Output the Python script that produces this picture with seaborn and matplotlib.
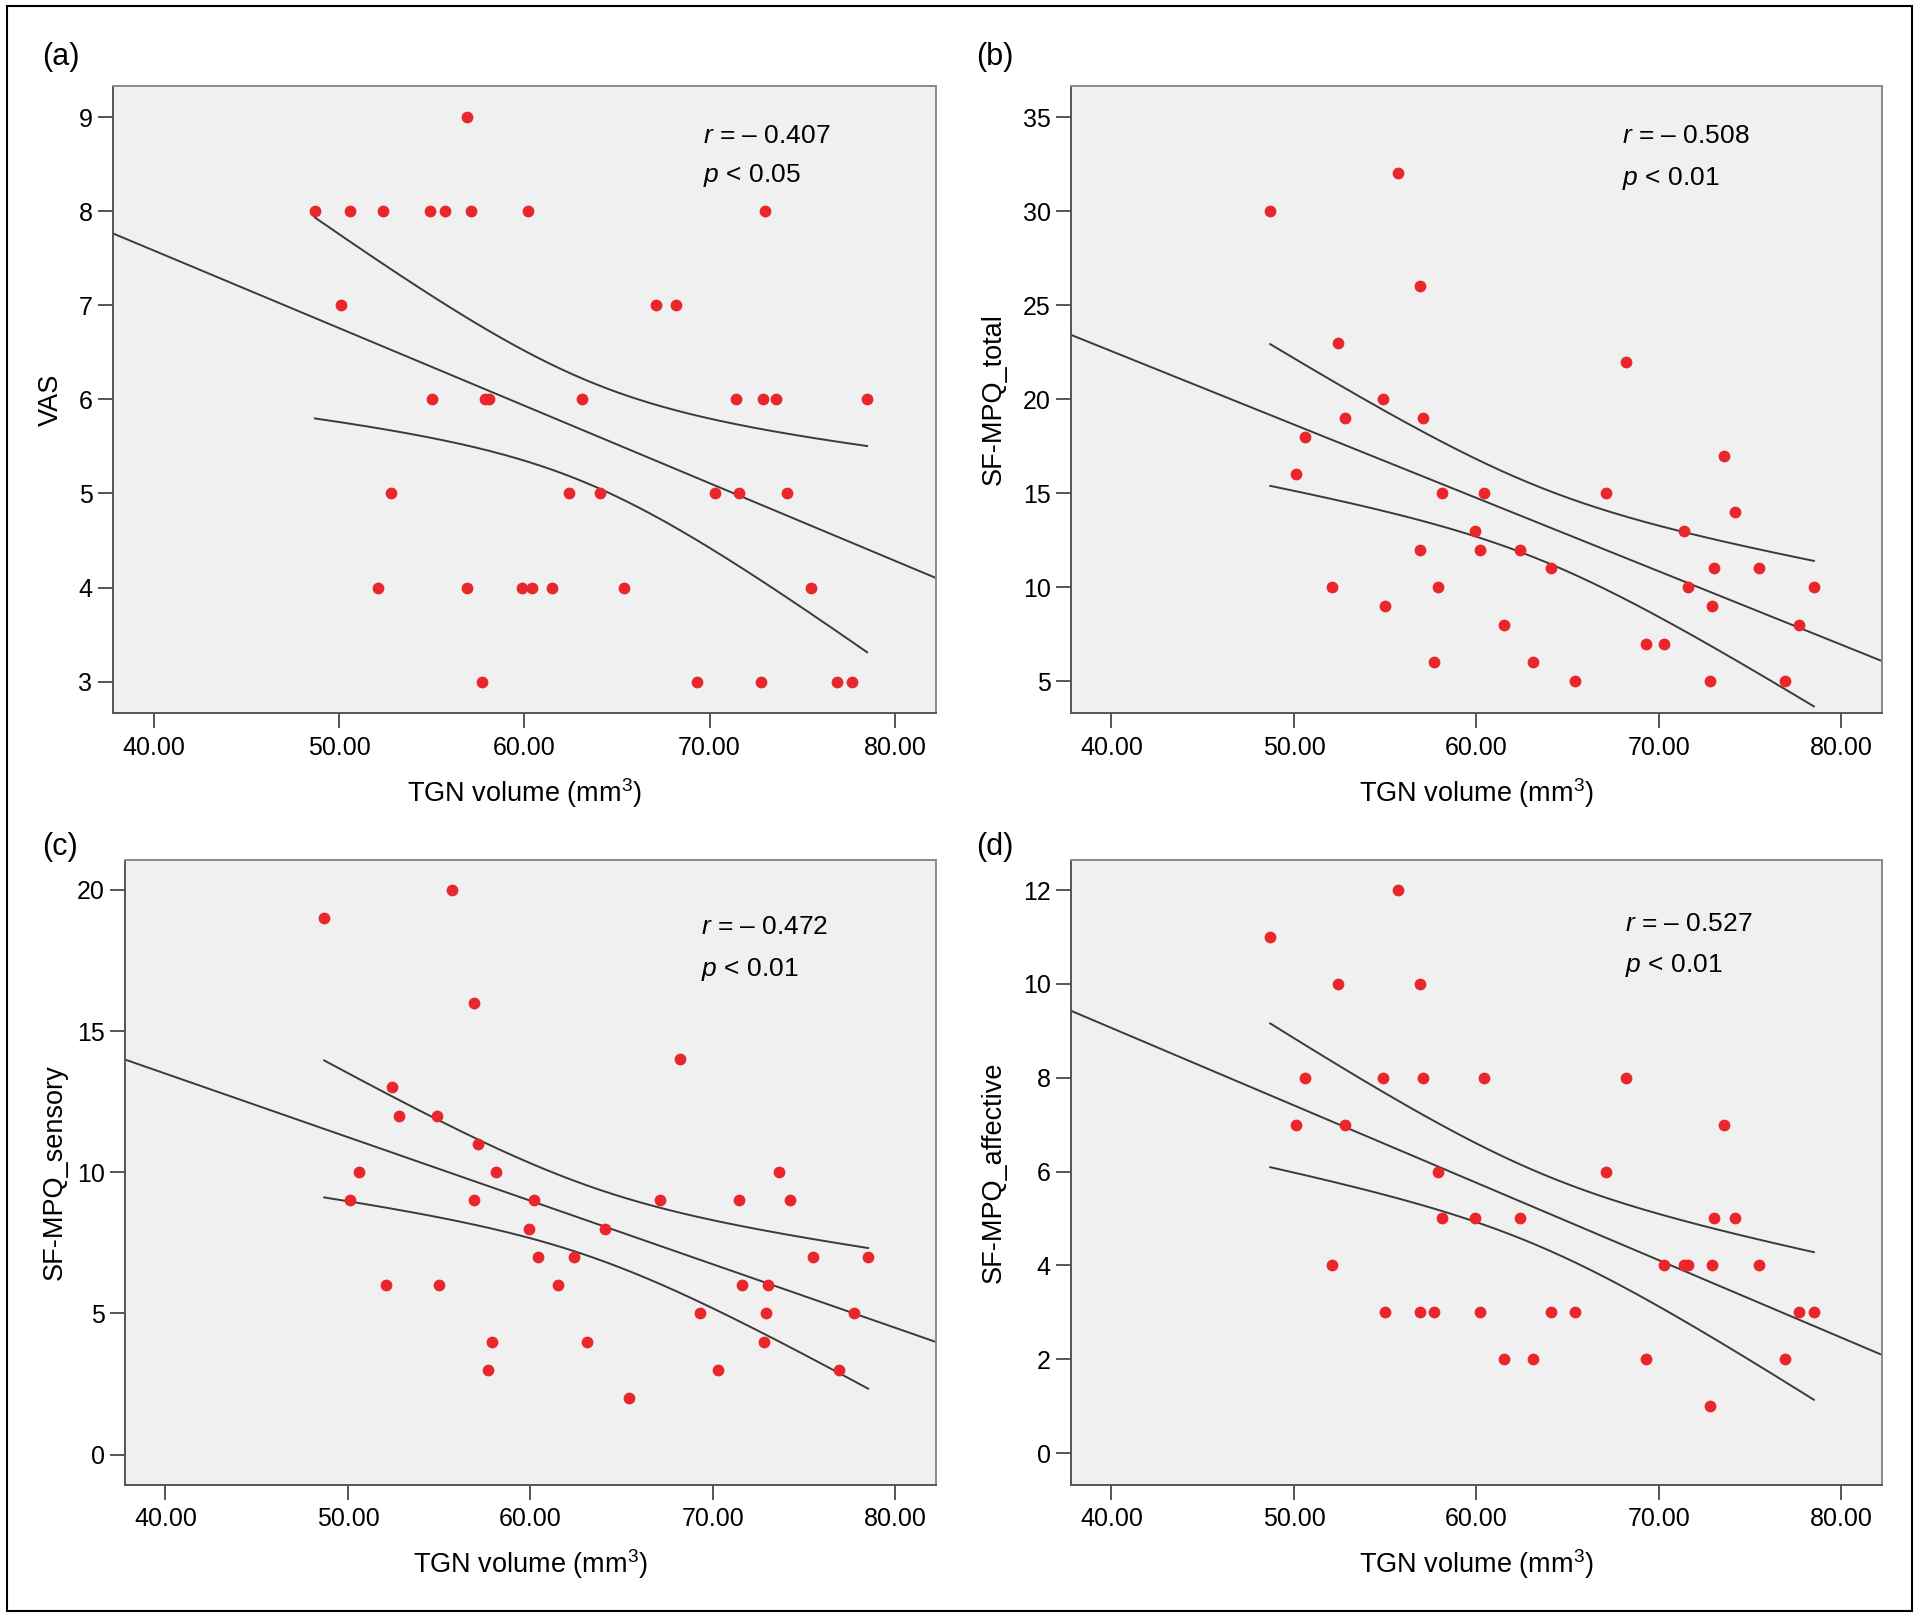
import numpy as np
import pandas as pd
import seaborn as sns
import matplotlib
matplotlib.use("Agg")
import matplotlib.pyplot as plt
from matplotlib.patches import Rectangle

plt.rcParams['font.family'] = ['Liberation Sans', 'DejaVu Sans']
plt.rcParams['mathtext.fontset'] = 'custom'
plt.rcParams['mathtext.rm'] = 'Liberation Sans'
plt.rcParams['mathtext.it'] = 'Liberation Sans:italic'

# ---- data (38 subjects) ----
tgn_volume = [48.7, 50.1, 50.6, 52.1, 52.4, 52.8, 54.9, 55.0, 55.7, 56.9, 56.9, 57.1,
              57.7, 57.9, 58.1, 59.9, 60.2, 60.4, 61.5, 62.4, 63.1, 64.1, 65.4, 67.1,
              68.2, 69.3, 70.3, 71.4, 71.6, 72.8, 72.9, 73.0, 73.6, 74.2, 75.5, 76.9,
              77.7, 78.5]
vas = [8, 7, 8, 4, 8, 5, 8, 6, 8, 9, 4, 8, 3, 6, 6, 4, 8, 4, 4, 5, 6, 5, 4, 7,
       7, 3, 5, 6, 5, 3, 6, 8, 6, 5, 4, 3, 3, 6]
sfmpq_total = [30, 16, 18, 10, 23, 19, 20, 9, 32, 26, 12, 19, 6, 10, 15, 13, 12, 15, 8, 12,
               6, 11, 5, 15, 22, 7, 7, 13, 10, 5, 9, 11, 17, 14, 11, 5, 8, 10]
sfmpq_sensory = [19, 9, 10, 6, 13, 12, 12, 6, 20, 16, 9, 11, 3, 4, 10, 8, 9, 7, 6, 7,
                 4, 8, 2, 9, 14, 5, 3, 9, 6, 4, 5, 6, 10, 9, 7, 3, 5, 7]
sfmpq_affective = [11, 7, 8, 4, 10, 7, 8, 3, 12, 10, 3, 8, 3, 6, 5, 5, 3, 8, 2, 5,
                   2, 3, 3, 6, 8, 2, 4, 4, 4, 1, 4, 5, 7, 5, 4, 2, 3, 3]

panel_letters = ['(a)', '(b)', '(c)', '(d)']
y_names = ['VAS', 'SF-MPQ_total', 'SF-MPQ_sensory', 'SF-MPQ_affective']
r_texts = ['– 0.407', '– 0.508', '– 0.472', '– 0.527']
p_texts = ['0.05', '0.01', '0.01', '0.01']
x_ticks = [40, 50, 60, 70, 80]
y_ticks = [[3, 4, 5, 6, 7, 8, 9], [5, 10, 15, 20, 25, 30, 35], [0, 5, 10, 15, 20],
           [0, 2, 4, 6, 8, 10, 12]]
y_lims = [(2.67, 9.33), (3.33, 36.65), (-1.06, 21.07), (-0.67, 12.65)]
x_lim = (37.78, 82.22)
series = [vas, sfmpq_total, sfmpq_sensory, sfmpq_affective]

W, H = 1920, 1617
fig = plt.figure(figsize=(W / 100, H / 100), dpi=100)

# axes boxes in pixels: left, right, top, bottom
boxes = [(112.6, 936.0, 86.0, 712.7),
         (1071.0, 1881.7, 86.0, 712.7),
         (124.9, 936.0, 859.6, 1484.5),
         (1071.0, 1881.7, 859.6, 1484.5)]
ylabel_x = [51, 994, 55, 994]
annot = [(0.717, 0.921, 0.857), (0.680, 0.921, 0.853), (0.710, 0.892, 0.824), (0.683, 0.897, 0.830)]
letter_pos = [(42, 57), (976, 57), (42, 847), (976, 847)]

line_c = '#3a3a3a'
dot_c = '#e8262b'

for i in range(4):
    l, r, t, b = boxes[i]
    ax = fig.add_axes([l / W, 1 - b / H, (r - l) / W, (b - t) / H])
    ax.set_facecolor('#f0f0f0')
    df = pd.DataFrame({'x': tgn_volume, 'y': series[i]})
    ax.set_xlim(*x_lim)
    ax.set_ylim(*y_lims[i])

    # regression line and 95% CI of mean
    x = np.asarray(tgn_volume, float)
    y = np.asarray(series[i], float)
    n = len(x)
    b1, b0 = np.polyfit(x, y, 1)
    xf = np.linspace(x_lim[0], x_lim[1], 200)
    ax.plot(xf, b0 + b1 * xf, color=line_c, lw=1.4, zorder=2)
    resid = y - (b0 + b1 * x)
    s = np.sqrt(np.sum(resid ** 2) / (n - 2))
    sxx = np.sum((x - x.mean()) ** 2)
    xs = np.linspace(x.min(), x.max(), 200)
    se = s * np.sqrt(1.0 / n + (xs - x.mean()) ** 2 / sxx)
    tval = 2.028
    ax.plot(xs, b0 + b1 * xs + tval * se, color=line_c, lw=1.4, zorder=2)
    ax.plot(xs, b0 + b1 * xs - tval * se, color=line_c, lw=1.4, zorder=2)

    sns.scatterplot(data=df, x='x', y='y', ax=ax, color=dot_c, s=72, linewidth=0, zorder=3)

    ax.set_xticks(x_ticks)
    ax.set_xticklabels([f'{v:.2f}' for v in x_ticks])
    ax.set_yticks(y_ticks[i])
    ax.set_yticklabels([str(v) for v in y_ticks[i]])
    ax.tick_params(axis='both', direction='out', length=10.5, width=1.4, color='#555555',
                   labelsize=18, labelcolor='black')
    ax.tick_params(axis='x', pad=6)
    ax.tick_params(axis='y', pad=4)
    for side in ['left', 'bottom']:
        ax.spines[side].set_color('#555555')
        ax.spines[side].set_linewidth(1.4)
    for side in ['top', 'right']:
        ax.spines[side].set_color('#8a8a8a')
        ax.spines[side].set_linewidth(1.4)

    ax.set_xlabel('TGN volume (mm$^{3}$)', fontsize=19.5, va='center')
    ax.xaxis.set_label_coords(0.5, -0.128)
    ax.set_ylabel(y_names[i], fontsize=19.5, va='center')
    ax.yaxis.set_label_coords((ylabel_x[i] - l) / (r - l), 0.5)

    ax0, ay1, ay2 = annot[i]
    ax.text(ax0, ay1, r'$r$ = ' + r_texts[i], transform=ax.transAxes, fontsize=19,
            ha='left', va='center')
    ax.text(ax0, ay2, r'$p$ < ' + p_texts[i], transform=ax.transAxes, fontsize=19,
            ha='left', va='center')

    lx, ly = letter_pos[i]
    fig.text(lx / W, 1 - ly / H, panel_letters[i], fontsize=22, ha='left', va='center')

fig.add_artist(Rectangle((7 / W, 6 / H), (1912 - 7) / W, (1611 - 6) / H,
                         transform=fig.transFigure, fill=False, ec='black', lw=1.5))

fig.savefig('out.png', dpi=100, facecolor='white')
